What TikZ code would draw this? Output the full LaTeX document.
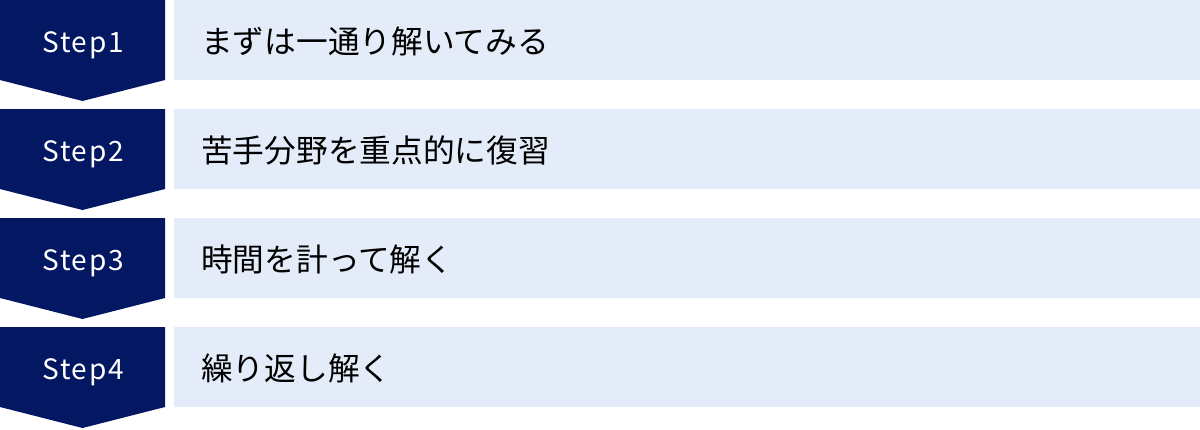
\documentclass[tikz,border=0pt]{standalone}
\usepackage{fontspec}
\setmainfont{Noto Sans}
\newfontfamily\jpfont{Noto Sans CJK JP}
\newfontfamily\stepfont[LetterSpace=6]{Noto Sans CJK JP}
\definecolor{stepnavy}{RGB}{4,23,98}
\definecolor{boxblue}{RGB}{229,236,249}
\tikzset{
  steplabel/.style={anchor=base,text=white,font=\stepfont\fontsize{28}{30}\selectfont,inner sep=0pt},
  boxtext/.style={anchor=west,font=\jpfont\fontsize{31.7}{33}\selectfont,inner sep=0pt}
}
\begin{document}
\begin{tikzpicture}[x=1pt,y=-1pt]
    % Cadre
    \useasboundingbox (0,0) rectangle (1200,429);

    % Etapes
    \foreach \i/\txt in {1/まずは一通り解いてみる,2/苦手分野を重点的に復習,3/時間を計って解く,4/繰り返し解く}{
        \pgfmathsetmacro{\top}{(\i-1)*109}
        % Fleche
        \fill[stepnavy] (0,\top) -- ++(165,0) -- ++(0,80) -- ++(-82.5,21) -- ++(-82.5,-21) -- cycle;
        \node[steplabel] (step\i) at (83,\top+52) {Step\i};
        % Boite
        \fill[boxblue] (174,\top) rectangle (1200,\top+80);
        \node[boxtext] (txt\i) at (201,\top+41) {\txt};
    }
\end{tikzpicture}
\end{document}
